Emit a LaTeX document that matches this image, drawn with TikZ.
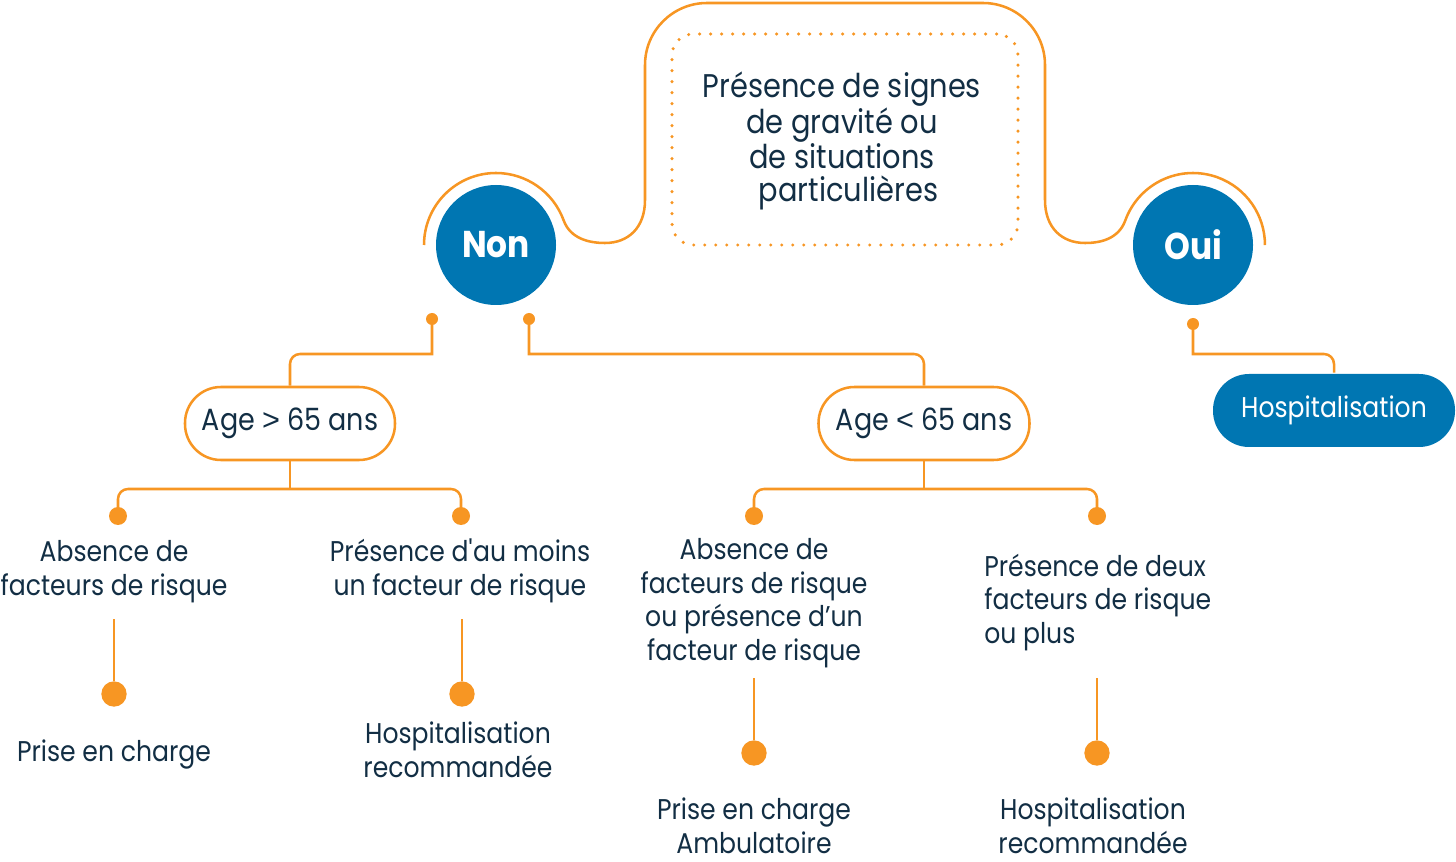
\documentclass[tikz,border=0pt]{standalone}
\usepackage{fontspec}
\setmainfont{Poppins}[FakeStretch=0.88]
\newfontfamily\symfont{Liberation Sans}
\definecolor{org}{RGB}{247,150,35}
\definecolor{blu}{RGB}{0,118,178}
\definecolor{nav}{RGB}{18,46,68}
\begin{document}
\begin{tikzpicture}[x=0.75pt,y=-0.75pt,
  conn/.style={draw=org, line width=1.9pt},
  body/.style={font=\fontsize{21.4}{25.1}\selectfont, text=nav, align=center, inner sep=0pt},
  bigcirc/.style={circle, fill=blu, text=white, minimum size=90pt, inner sep=0pt, font=\bfseries\fontsize{28}{30}\selectfont},
  pill/.style={draw=org, line width=1.9pt, rounded corners=27pt, minimum height=54.75pt, inner sep=0pt, text=nav, font=\fontsize{23}{28}\selectfont},
  sdot/.style={circle, fill=org, minimum size=9pt, inner sep=0pt},
  mdot/.style={circle, fill=org, minimum size=13.5pt, inner sep=0pt},
  bdot/.style={circle, fill=org, minimum size=19pt, inner sep=0pt}]
\useasboundingbox (0,0) rectangle (1456,862);

% outline
\draw[conn] (424,245) arc[start angle=180, end angle=340, radius=72]
  .. controls (570.5,239.2) and (590,243) .. (605,243)
  .. controls (628,243) and (645,228) .. (645,200)
  -- (645,65) arc[start angle=180, end angle=270, radius=62]
  -- (983,3) arc[start angle=270, end angle=360, radius=62]
  -- (1045,200)
  .. controls (1045,228) and (1062,243) .. (1085,243)
  .. controls (1100,243) and (1118.5,239.2) .. (1125.3,220.4)
  arc[start angle=200, end angle=360, radius=72];

% question box
\node[draw=org, line width=2.6pt, line cap=round, dash pattern=on 0pt off 8.25pt, rounded corners=16pt, minimum width=259.5pt, minimum height=158.25pt] (qbox) at (845,139.5) {};
\node[body, anchor=base, font=\fontsize{24.6}{25}\selectfont] (q) at (842,202) {Présence de signes\\de gravité ou\\de situations\\\hspace*{0.4em}particulières};

% circles
\node[bigcirc] (non) at (496,245) {Non};
\node[bigcirc] (oui) at (1193,245) {Oui};

% small dots
\node[sdot] (nd1) at (432,319) {};
\node[sdot] (nd2) at (529,319) {};
\node[sdot] (od) at (1193,324) {};

% pills
\node[pill, minimum width=157.5pt] (age1) at (290,423.5) {Age {\symfont >} 65 ans};
\node[pill, minimum width=158.25pt] (age2) at (924,423.5) {Age {\symfont <} 65 ans};
\node[pill, draw=none, fill=blu, text=white, minimum width=181.5pt, font=\fontsize{21.4}{25}\selectfont] (hosp) at (1334,410.5) {Hospitalisation};

\draw[conn] (nd1.center) -- (432,354) -- (300,354) arc[start angle=270, end angle=180, radius=10] -- (age1.north);
\draw[conn] (nd2.center) -- (529,354) -- (914,354) arc[start angle=270, end angle=360, radius=10] -- (age2.north);
\draw[conn] (od.center) -- (1193,354) -- (1324,354) arc[start angle=270, end angle=360, radius=10] -- (hosp.north);

% branch dots
\node[mdot] (l1) at (118,516) {};
\node[mdot] (l2) at (461,516) {};
\node[mdot] (r1) at (754,516) {};
\node[mdot] (r2) at (1097,516) {};
\draw[conn] (age1.south) -- (290,489);
\draw[conn] (age2.south) -- (924,489);
\draw[conn, rounded corners=7.5pt] (l1.center) -- (118,489) -- (461,489) -- (l2.center);
\draw[conn, rounded corners=7.5pt] (r1.center) -- (754,489) -- (1097,489) -- (r2.center);

% texts
\node[body, anchor=base] (l1t) at (114,595) {Absence de\\facteurs de risque};
\node[body, anchor=base] (l2t) at (460,595) {Présence d\textquotesingle au moins\\un facteur de risque};
\node[body, anchor=base] (r1t) at (754,660) {Absence de\\facteurs de risque\\ou présence d’un\\facteur de risque};
\node[body, anchor=base west, align=left] (r2t) at (984,643.3) {Présence de deux\\facteurs de risque\\ou plus};

% end dots
\coordinate (l1a) at (114,619);
\coordinate (l2a) at (462,619);
\coordinate (r1a) at (754,678);
\coordinate (r2a) at (1097,678);
\node[bdot] (l1e) at (114,694) {};
\node[bdot] (l2e) at (462,694) {};
\node[bdot] (r1e) at (754,753) {};
\node[bdot] (r2e) at (1097,753) {};
\draw[conn] (l1a) -- (l1e);
\draw[conn] (l2a) -- (l2e);
\draw[conn] (r1a) -- (r1e);
\draw[conn] (r2a) -- (r2e);

% results
\node[body, anchor=base] (l1r) at (114,761.7) {Prise en charge};
\node[body, anchor=base] (l2r) at (458,777) {Hospitalisation\\recommandée};
\node[body, anchor=base] (r1r) at (754,853) {Prise en charge\\Ambulatoire};
\node[body, anchor=base] (r2r) at (1093,853) {Hospitalisation\\recommandée};
\end{tikzpicture}
\end{document}
